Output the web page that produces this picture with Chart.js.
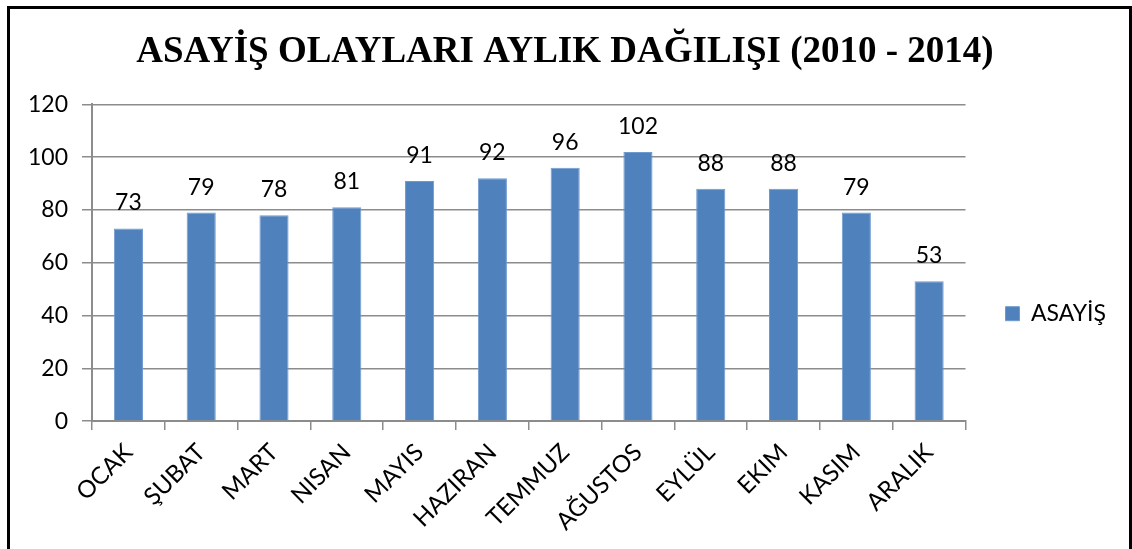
<!DOCTYPE html>
<html>
<head>
<meta charset="utf-8">
<script src="https://cdn.jsdelivr.net/npm/chart.js@4/dist/chart.umd.min.js"></script>
<style>
  body { margin: 0; background: #fff; }
  #wrap { position: absolute; left: 0; top: 0; width: 1132px; height: 549px; }
  #frame { position: absolute; left: 7px; top: 6px; width: 1119px; height: 600px; border: 3px solid #000; pointer-events: none; }
</style>
</head>
<body>
<div id="wrap"><canvas id="asayisChart" width="1132" height="549"></canvas></div>
<div id="frame"></div>
<script>
const months = ["OCAK", "ŞUBAT", "MART", "NISAN", "MAYIS", "HAZIRAN", "TEMMUZ", "AĞUSTOS", "EYLÜL", "EKIM", "KASIM", "ARALIK"];
const asayis = [73, 79, 78, 81, 91, 92, 96, 102, 88, 88, 79, 53];
const seriesName = "ASAYİŞ";
const chartTitle = "ASAYİŞ OLAYLARI AYLIK DAĞILIŞI (2010 - 2014)";

const gridGray = "#8c8c8c";
const labelFont = { family: "Lato", size: 23 };

// draws the value above each bar (like excel data labels)
const valueLabels = {
  id: "valueLabels",
  afterDatasetsDraw(chart) {
    const ctx = chart.ctx;
    const meta = chart.getDatasetMeta(0);
    ctx.save();
    ctx.font = "23px Lato";
    ctx.fillStyle = "#000";
    ctx.textAlign = "center";
    ctx.textBaseline = "alphabetic";
    meta.data.forEach((bar, i) => {
      ctx.fillText(chart.data.datasets[0].data[i], bar.x, bar.y - 18);
    });
    ctx.restore();
  }
};

let ctx = document.querySelector("#asayisChart").getContext("2d");
let barChart = new Chart(ctx, {
  type: "bar",
  data: {
    labels: months,
    datasets: [
      {
        label: seriesName,
        data: asayis,
        backgroundColor: "#4f81bd",
        borderColor: "#6f9ad0",
        borderWidth: 1,
        categoryPercentage: 1,
        barPercentage: 0.4,
      },
    ],
  },
  options: {
    responsive: false,
    animation: false,
    layout: { padding: { left: 14, right: 16, top: 20, bottom: 5 } },
    plugins: {
      title: {
        display: true,
        text: chartTitle,
        color: "#000",
        font: { family: "Liberation Serif", size: 37, weight: "bold" },
        padding: { top: 10, bottom: 30 },
      },
      legend: {
        position: "right",
        title: { display: true, text: " ", font: { size: 12 }, padding: { top: 49, bottom: 0 } },
        labels: {
          color: "#000",
          font: { family: "Lato", size: 23 },
          boxWidth: 14,
          boxHeight: 14,
          padding: 40,
        },
      },
      tooltip: { enabled: false },
    },
    scales: {
      x: {
        ticks: { color: "#000", font: { family: "Lato", size: 24 }, maxRotation: 45, minRotation: 45, padding: 8 },
        grid: { drawOnChartArea: false, offset: true, tickLength: 9, color: gridGray, lineWidth: 1.5 },
        border: { color: gridGray, width: 2 },
      },
      y: {
        min: 0,
        max: 120,
        ticks: { stepSize: 20, color: "#000", font: labelFont, padding: 14 },
        grid: { color: gridGray, lineWidth: 1.5, tickLength: 10 },
        border: { color: gridGray, width: 2 },
      },
    },
  },
  plugins: [valueLabels],
});
</script>
</body>
</html>
